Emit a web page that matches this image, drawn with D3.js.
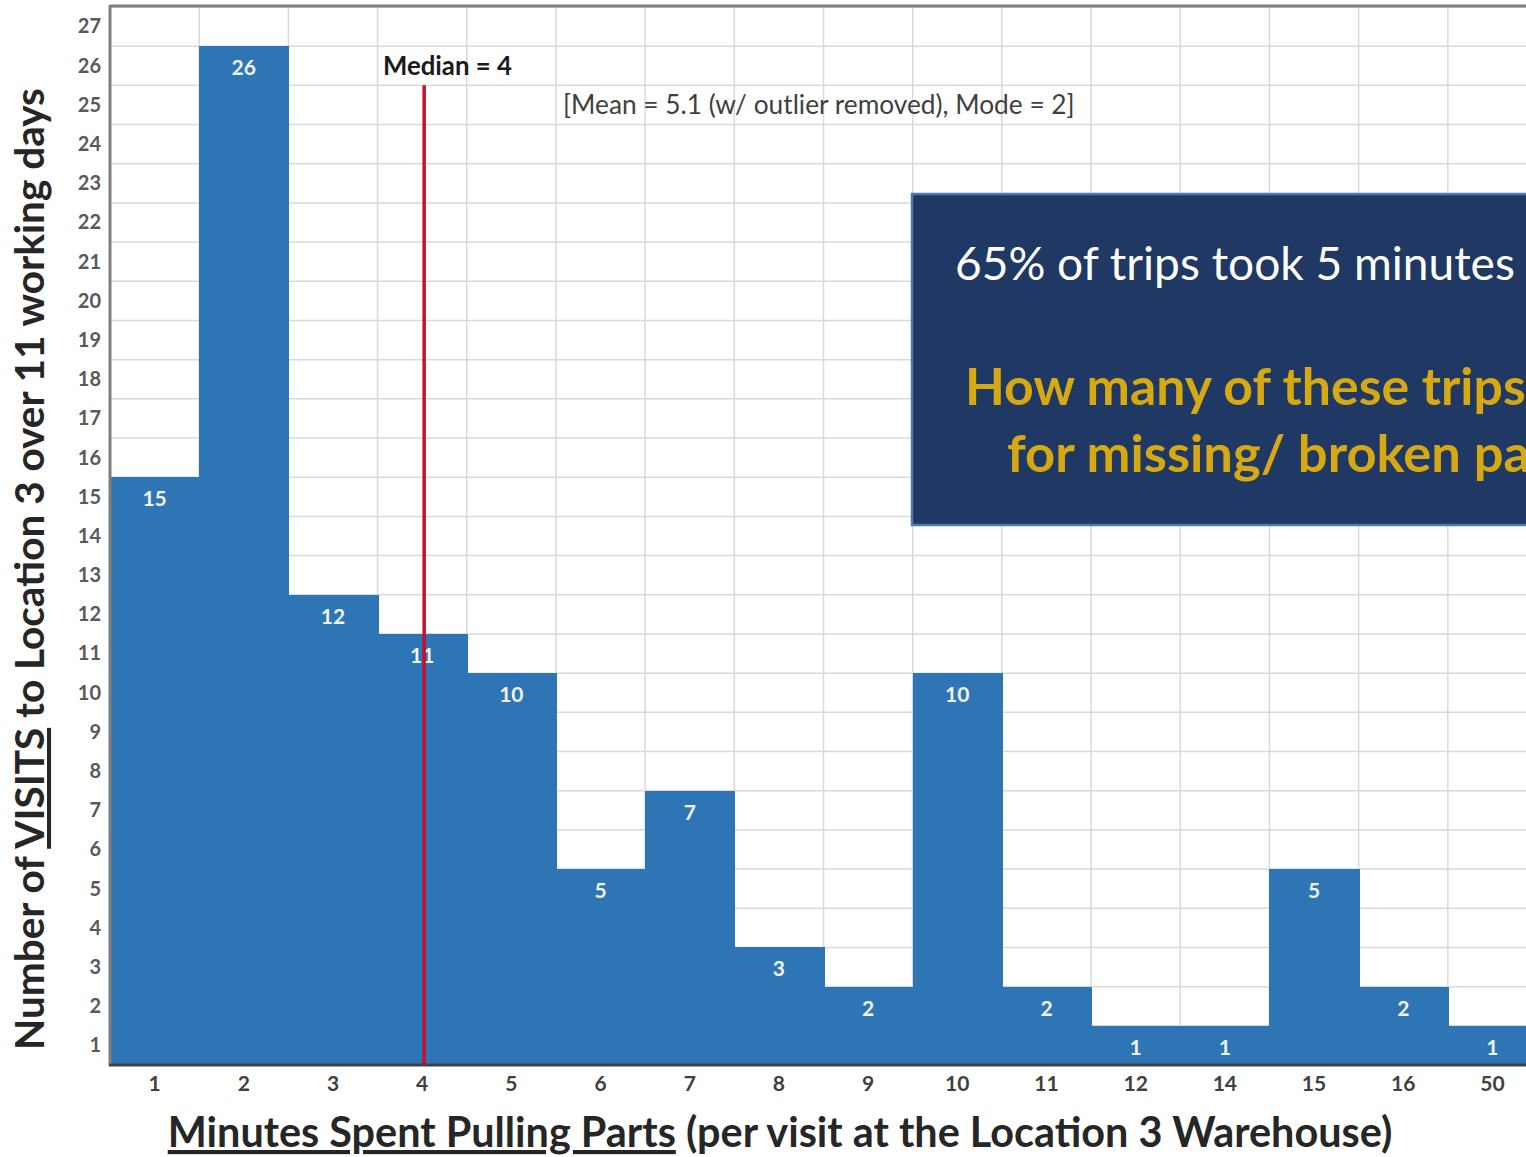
<!DOCTYPE html>
<html>
<head>
<meta charset="utf-8">
<script src="https://cdn.jsdelivr.net/npm/d3@7"></script>
<style>
  body { margin: 0; background: #fff; }
  svg { display: block; }
  text { font-family: Lato, "Open Sans", sans-serif; }
</style>
</head>
<body>
<svg id="chart" width="1526" height="1157"></svg>
<script>
// Minutes spent pulling parts (category) and number of visits in each
const minutes = ["1", "2", "3", "4", "5", "6", "7", "8", "9", "10", "11", "12", "14", "15", "16", "50"];
const visits  = [15, 26, 12, 11, 10, 5, 7, 3, 2, 10, 2, 1, 1, 5, 2, 1];
// Y-axis count labels, each centred in its unit band
const countLabels = d3.range(1, 28);
const yMax = 27;
// Median marker
const medianMinute = "4";
const medianLineTop = 25;
const medianLabel = "Median = 4";
const statsLabel = "[Mean = 5.1 (w/ outlier removed), Mode = 2]";
// Call-out box lines
const calloutLine1 = "65% of trips took 5 minutes or less";
const calloutLine2 = "How many of these trips were";
const calloutLine3 = "for missing/ broken parts?";

const svg = d3.select("#chart");

const plot = { left: 110, right: 1537, top: 7, bottom: 1065 };

const x = d3.scaleBand().domain(minutes).range([plot.left, plot.right]).padding(0);
const y = d3.scaleLinear().domain([0, yMax]).range([plot.bottom, plot.top]);

// scale a text's font so that its first n characters span the given width
function fitWidth(sel, width, n) {
  const node = sel.node();
  const fs = parseFloat(sel.attr("font-size"));
  const len = n == null ? node.getComputedTextLength() : node.getSubStringLength(0, n);
  sel.attr("font-size", fs * width / len);
}

// grid
const grid = svg.append("g").attr("stroke", "#d9d9d9").attr("stroke-width", 1.5);
grid.selectAll("line.h").data(d3.range(1, yMax + 1)).join("line")
  .attr("class", "h")
  .attr("x1", plot.left).attr("x2", plot.right)
  .attr("y1", d => y(d)).attr("y2", d => y(d));
grid.selectAll("line.v").data(minutes.slice(1)).join("line")
  .attr("class", "v")
  .attr("x1", d => x(d)).attr("x2", d => x(d))
  .attr("y1", plot.top).attr("y2", plot.bottom);

// bars (touching, histogram style)
svg.append("g").attr("shape-rendering", "crispEdges")
  .selectAll("rect").data(minutes).join("rect")
  .attr("x", d => Math.round(x(d)))
  .attr("width", d => Math.round(x(d) + x.bandwidth()) - Math.round(x(d)) + 1)
  .attr("y", (d, i) => Math.round(y(visits[i])))
  .attr("height", (d, i) => y(0) - Math.round(y(visits[i])))
  .attr("fill", "#2e75b6");

// value labels inside bar tops
svg.append("g").selectAll("text").data(minutes).join("text")
  .attr("x", d => x(d) + x.bandwidth() / 2)
  .attr("y", (d, i) => y(visits[i]) + 29)
  .attr("text-anchor", "middle")
  .attr("font-size", 21)
  .attr("font-weight", 700)
  .attr("fill", "#f2f2f2")
  .text((d, i) => visits[i]);

// frame: top border, left axis, bottom axis
svg.append("line").attr("x1", plot.left).attr("x2", plot.right)
  .attr("y1", plot.top - 1).attr("y2", plot.top - 1)
  .attr("stroke", "#7f7f7f").attr("stroke-width", 3);
svg.append("line").attr("x1", plot.left).attr("x2", plot.left)
  .attr("y1", plot.top - 2).attr("y2", plot.bottom + 1)
  .attr("stroke", "#7f7f7f").attr("stroke-width", 3);
svg.append("line").attr("x1", plot.left - 1).attr("x2", plot.right)
  .attr("y1", plot.bottom).attr("y2", plot.bottom)
  .attr("stroke", "#404040").attr("stroke-width", 3);

// median line
svg.append("line")
  .attr("x1", x(medianMinute) + x.bandwidth() / 2 + 2)
  .attr("x2", x(medianMinute) + x.bandwidth() / 2 + 2)
  .attr("y1", y(medianLineTop)).attr("y2", plot.bottom)
  .attr("stroke", "#c8102e").attr("stroke-width", 3.5);

// y axis labels
const yAxis = svg.append("g")
  .attr("transform", `translate(${plot.left - 2},0)`)
  .call(d3.axisLeft(y)
    .tickValues(countLabels.map(d => d - 0.5))
    .tickFormat(d => d + 0.5)
    .tickSize(0).tickPadding(7));
yAxis.select(".domain").remove();
yAxis.selectAll("text")
  .attr("font-family", "Lato, sans-serif")
  .attr("font-size", 20).attr("font-weight", 700).attr("fill", "#595959");

// x axis labels
const xAxis = svg.append("g")
  .attr("transform", `translate(0,${plot.bottom})`)
  .call(d3.axisBottom(x).tickSize(0).tickPadding(11));
xAxis.select(".domain").remove();
xAxis.selectAll("text")
  .attr("font-family", "Lato, sans-serif")
  .attr("font-size", 21).attr("font-weight", 700).attr("fill", "#404040");

// median / stats notes
const med = svg.append("text").attr("x", 383).attr("y", 75)
  .attr("font-size", 20).attr("font-weight", 700).attr("fill", "#1a1a1a")
  .text(medianLabel);
fitWidth(med, 129);
const stats = svg.append("text").attr("x", 563).attr("y", 114)
  .attr("font-size", 20).attr("fill", "#404040")
  .text(statsLabel);
fitWidth(stats, 512);

// axis titles
const xTitle = svg.append("text")
  .attr("x", 780).attr("y", 1147)
  .attr("text-anchor", "middle")
  .attr("font-size", 36).attr("font-weight", 700).attr("fill", "#262626");
xTitle.append("tspan").attr("text-decoration", "underline").text("Minutes Spent Pulling Parts");
xTitle.append("tspan").text(" (per visit at the Location 3 Warehouse)");
fitWidth(xTitle, 1225);

const yTitle = svg.append("text")
  .attr("transform", "translate(44,569) rotate(-90)")
  .attr("text-anchor", "middle")
  .attr("font-size", 34).attr("font-weight", 700).attr("fill", "#262626");
yTitle.append("tspan").text("Number of ");
yTitle.append("tspan").attr("text-decoration", "underline").text("VISITS");
yTitle.append("tspan").text(" to Location 3 over 11 working days");
fitWidth(yTitle, 962);

// call-out box
const box = svg.append("g");
box.append("rect")
  .attr("x", 912).attr("y", 194).attr("width", 760).attr("height", 331)
  .attr("fill", "#1f3864").attr("stroke", "#4f78b0").attr("stroke-width", 2.5);
const c1 = box.append("text").attr("x", 955).attr("y", 280)
  .attr("font-size", 44).attr("fill", "#ffffff").text(calloutLine1);
fitWidth(c1, 560, 27);
const c2 = box.append("text").attr("x", 965).attr("y", 405)
  .attr("font-size", 46).attr("font-weight", 700).attr("fill", "#d6a912").text(calloutLine2);
fitWidth(c2, 538, 22);
const c3 = box.append("text").attr("x", 1007).attr("y", 472)
  .attr("font-size", 46).attr("font-weight", 700).attr("fill", "#d6a912").text(calloutLine3);
fitWidth(c3, 454, 19);
</script>
</body>
</html>
